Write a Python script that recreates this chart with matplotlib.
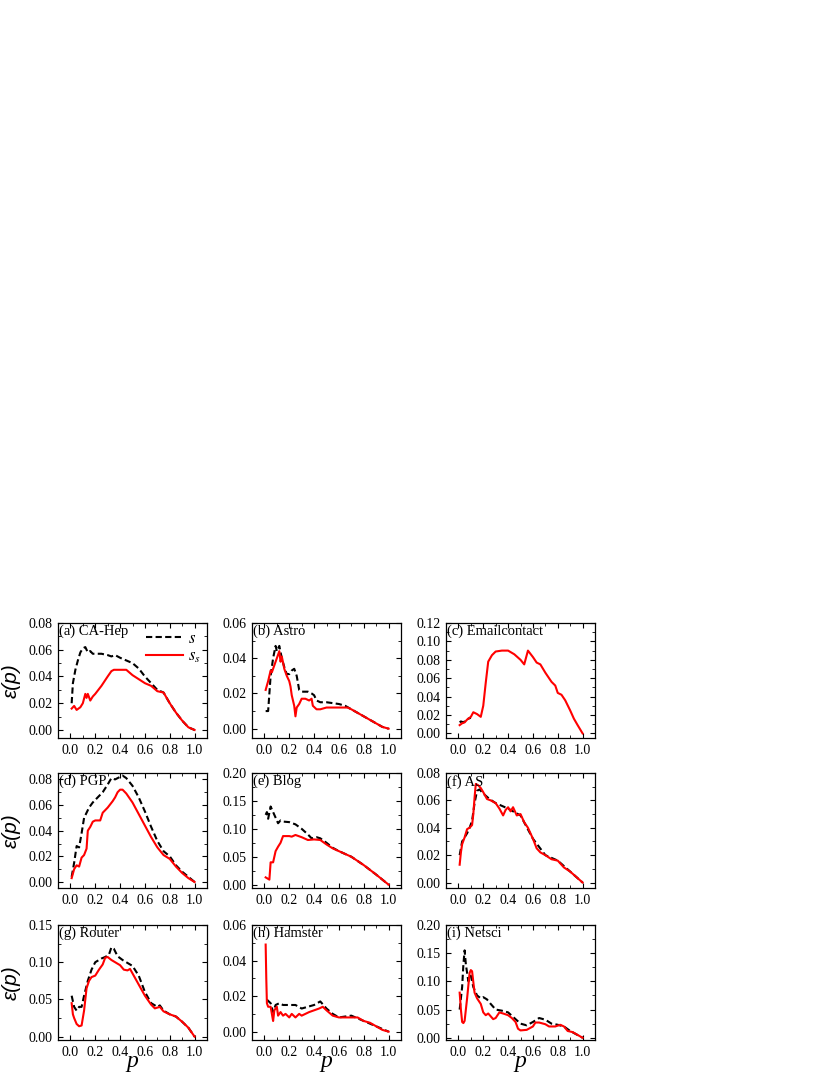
import numpy as np
import matplotlib
matplotlib.use("Agg")
import matplotlib.pyplot as plt
from matplotlib.ticker import MultipleLocator, AutoMinorLocator

plt.rcParams['font.family'] = ['Liberation Serif', 'DejaVu Serif']
plt.rcParams['mathtext.fontset'] = 'stix'

# ---- data: (p, s) dashed and (p, s_s) solid for each network ----
names = ['(a) CA-Hep', '(b) Astro', '(c) Emailcontact',
         '(d) PGP', '(e) Blog', '(f) AS',
         '(g) Router', '(h) Hamster', '(i) Netsci']

# (a) CA-Hep
a_p_s = [0.01, 0.02, 0.04, 0.06, 0.08, 0.1, 0.12, 0.14, 0.16, 0.18, 0.2, 0.25, 0.3, 0.33, 0.36, 0.4,
         0.45, 0.5, 0.55, 0.6, 0.65, 0.7, 0.75, 0.8, 0.85, 0.9, 0.95, 1.0]
a_s = [0.020, 0.035, 0.045, 0.052, 0.058, 0.061, 0.062, 0.058, 0.059, 0.057, 0.057, 0.057, 0.056, 0.055,
       0.056, 0.054, 0.052, 0.050, 0.046, 0.040, 0.035, 0.030, 0.028, 0.020, 0.013, 0.007, 0.002, 0.0]
a_p_ss = [0.01, 0.03, 0.05, 0.08, 0.1, 0.12, 0.13, 0.14, 0.16, 0.18, 0.2, 0.25, 0.3, 0.33, 0.35, 0.4,
          0.45, 0.5, 0.55, 0.6, 0.65, 0.7, 0.75, 0.8, 0.85, 0.9, 0.95, 1.0]
a_ss = [0.016, 0.018, 0.015, 0.017, 0.020, 0.027, 0.024, 0.027, 0.022, 0.025, 0.027, 0.033, 0.040, 0.044,
        0.045, 0.045, 0.045, 0.041, 0.038, 0.035, 0.033, 0.029, 0.028, 0.020, 0.013, 0.007, 0.002, 0.0]

# (b) Astro
b_p_s = [0.01, 0.03, 0.05, 0.07, 0.09, 0.1, 0.12, 0.14, 0.16, 0.18, 0.2, 0.22, 0.24, 0.26, 0.28, 0.3,
         0.35, 0.38, 0.4, 0.42, 0.45, 0.5, 0.6, 0.65, 0.7, 0.8, 0.9, 0.95, 1.0]
b_s = [0.010, 0.010, 0.030, 0.040, 0.047, 0.044, 0.047, 0.040, 0.035, 0.031, 0.031, 0.033, 0.034, 0.030,
       0.022, 0.021, 0.021, 0.020, 0.019, 0.016, 0.015, 0.015, 0.014, 0.013, 0.011, 0.007, 0.003, 0.001, 0.0]
b_p_ss = [0.01, 0.03, 0.05, 0.06, 0.08, 0.1, 0.12, 0.13, 0.14, 0.16, 0.18, 0.2, 0.21, 0.22, 0.24, 0.25,
          0.26, 0.28, 0.3, 0.33, 0.36, 0.38, 0.39, 0.42, 0.45, 0.5, 0.6, 0.67, 0.7, 0.8, 0.9, 0.95, 1.0]
b_ss = [0.022, 0.027, 0.033, 0.032, 0.036, 0.040, 0.044, 0.038, 0.041, 0.034, 0.030, 0.027, 0.024, 0.019,
        0.013, 0.007, 0.012, 0.014, 0.017, 0.017, 0.016, 0.017, 0.013, 0.011, 0.011, 0.012, 0.012, 0.012,
        0.011, 0.007, 0.003, 0.001, 0.0]

# (c) Emailcontact
c_p_ss = [0.01, 0.03, 0.05, 0.07, 0.1, 0.12, 0.15, 0.18, 0.2, 0.22, 0.24, 0.27, 0.3, 0.35, 0.4, 0.45,
          0.5, 0.53, 0.56, 0.6, 0.63, 0.66, 0.7, 0.75, 0.78, 0.8, 0.83, 0.86, 0.9, 0.93, 0.96, 1.0]
c_ss = [0.009, 0.011, 0.012, 0.015, 0.018, 0.023, 0.021, 0.018, 0.030, 0.055, 0.078, 0.085, 0.089, 0.090,
        0.090, 0.086, 0.080, 0.075, 0.090, 0.083, 0.077, 0.075, 0.066, 0.056, 0.052, 0.044, 0.042, 0.036,
        0.025, 0.016, 0.009, 0.0]
c_p_s = [0.01, 0.02, 0.04, 0.06, 0.08, 0.1]
c_s = [0.012, 0.013, 0.012, 0.014, 0.016, 0.017]

# (d) PGP
d_p_s = [0.01, 0.03, 0.05, 0.07, 0.09, 0.11, 0.13, 0.15, 0.18, 0.2, 0.23, 0.26, 0.3, 0.33, 0.36, 0.4,
         0.42, 0.45, 0.5, 0.55, 0.6, 0.65, 0.7, 0.75, 0.8, 0.85, 0.9, 0.95, 1.0]
d_s = [0.004, 0.015, 0.028, 0.027, 0.038, 0.050, 0.054, 0.058, 0.062, 0.064, 0.067, 0.070, 0.076, 0.081,
       0.080, 0.082, 0.083, 0.081, 0.075, 0.066, 0.055, 0.043, 0.032, 0.024, 0.020, 0.013, 0.008, 0.004, 0.0]
d_p_ss = [0.01, 0.03, 0.05, 0.07, 0.09, 0.11, 0.13, 0.14, 0.16, 0.18, 0.2, 0.24, 0.26, 0.3, 0.34, 0.36,
          0.38, 0.4, 0.42, 0.45, 0.5, 0.55, 0.6, 0.65, 0.7, 0.75, 0.8, 0.85, 0.9, 0.95, 1.0]
d_ss = [0.003, 0.010, 0.013, 0.012, 0.019, 0.021, 0.026, 0.040, 0.043, 0.047, 0.048, 0.048, 0.054, 0.058,
        0.063, 0.066, 0.070, 0.072, 0.072, 0.069, 0.062, 0.053, 0.044, 0.035, 0.027, 0.021, 0.018, 0.012,
        0.007, 0.003, 0.0]

# (e) Blog
e_p_s = [0.01, 0.02, 0.03, 0.05, 0.07, 0.09, 0.11, 0.13, 0.15, 0.2, 0.25, 0.3, 0.35, 0.38, 0.42, 0.45,
         0.5, 0.55, 0.6, 0.7, 0.8, 0.9, 1.0]
e_s = [0.125, 0.130, 0.118, 0.140, 0.130, 0.120, 0.110, 0.115, 0.113, 0.112, 0.108, 0.100, 0.090, 0.083,
       0.085, 0.083, 0.075, 0.066, 0.060, 0.050, 0.035, 0.018, 0.0]
e_p_ss = [0.01, 0.04, 0.05, 0.07, 0.09, 0.11, 0.13, 0.15, 0.2, 0.22, 0.25, 0.3, 0.35, 0.4, 0.45, 0.5,
          0.55, 0.6, 0.7, 0.8, 0.9, 1.0]
e_ss = [0.013, 0.009, 0.040, 0.040, 0.060, 0.068, 0.075, 0.087, 0.087, 0.086, 0.089, 0.085, 0.080, 0.081,
        0.080, 0.072, 0.065, 0.060, 0.050, 0.035, 0.018, 0.0]

# (f) AS
f_p_ss = [0.01, 0.02, 0.03, 0.05, 0.07, 0.09, 0.11, 0.12, 0.13, 0.14, 0.16, 0.18, 0.2, 0.23, 0.26, 0.3,
          0.33, 0.36, 0.38, 0.4, 0.42, 0.44, 0.47, 0.5, 0.53, 0.56, 0.6, 0.63, 0.66, 0.7, 0.75, 0.8, 0.85,
          0.9, 0.95, 1.0]
f_ss = [0.013, 0.022, 0.028, 0.033, 0.039, 0.040, 0.042, 0.050, 0.062, 0.072, 0.071, 0.069, 0.066, 0.061,
        0.060, 0.058, 0.054, 0.049, 0.053, 0.055, 0.052, 0.055, 0.049, 0.050, 0.044, 0.040, 0.032, 0.025,
        0.022, 0.020, 0.017, 0.016, 0.011, 0.008, 0.004, 0.0]
f_p_s = [0.01, 0.02, 0.03, 0.05, 0.07, 0.09, 0.11, 0.13, 0.15, 0.17, 0.2, 0.25, 0.3, 0.4, 0.5, 0.6,
         0.7, 0.8, 0.9, 1.0]
f_s = [0.020, 0.025, 0.030, 0.033, 0.036, 0.040, 0.045, 0.058, 0.067, 0.068, 0.065, 0.061, 0.058, 0.054,
       0.049, 0.032, 0.020, 0.016, 0.008, 0.0]

# (g) Router
g_p_s = [0.01, 0.03, 0.05, 0.07, 0.09, 0.11, 0.14, 0.17, 0.2, 0.25, 0.28, 0.31, 0.33, 0.35, 0.38, 0.42,
         0.45, 0.5, 0.55, 0.6, 0.65, 0.7, 0.72, 0.75, 0.8, 0.85, 0.9, 0.95, 1.0]
g_s = [0.055, 0.040, 0.035, 0.040, 0.040, 0.055, 0.075, 0.090, 0.100, 0.105, 0.107, 0.110, 0.120, 0.118,
       0.108, 0.103, 0.100, 0.095, 0.082, 0.060, 0.045, 0.040, 0.042, 0.035, 0.030, 0.027, 0.020, 0.012, 0.0]
g_p_ss = [0.01, 0.02, 0.03, 0.05, 0.07, 0.09, 0.11, 0.13, 0.15, 0.17, 0.2, 0.23, 0.26, 0.28, 0.3, 0.33,
          0.36, 0.4, 0.43, 0.46, 0.48, 0.5, 0.55, 0.6, 0.65, 0.68, 0.72, 0.75, 0.8, 0.85, 0.9, 0.95, 1.0]
g_ss = [0.045, 0.030, 0.025, 0.017, 0.014, 0.015, 0.035, 0.065, 0.075, 0.080, 0.082, 0.090, 0.097, 0.106,
        0.107, 0.103, 0.100, 0.096, 0.090, 0.089, 0.091, 0.085, 0.070, 0.055, 0.043, 0.038, 0.040, 0.034,
        0.030, 0.027, 0.020, 0.012, 0.0]

# (h) Hamster
h_p_s = [0.02, 0.05, 0.07, 0.09, 0.12, 0.15, 0.2, 0.25, 0.3, 0.35, 0.4, 0.45, 0.5, 0.55, 0.6, 0.7,
         0.8, 0.9, 1.0]
h_s = [0.018, 0.016, 0.011, 0.015, 0.016, 0.015, 0.015, 0.015, 0.013, 0.014, 0.015, 0.017, 0.013, 0.010,
       0.008, 0.009, 0.006, 0.003, 0.0]
h_p_ss = [0.01, 0.015, 0.02, 0.03, 0.05, 0.06, 0.07, 0.08, 0.1, 0.11, 0.13, 0.15, 0.17, 0.2, 0.22, 0.25,
          0.28, 0.3, 0.33, 0.36, 0.4, 0.44, 0.47, 0.5, 0.55, 0.6, 0.65, 0.7, 0.75, 0.8, 0.85, 0.9, 0.95, 1.0]
h_ss = [0.049, 0.030, 0.016, 0.014, 0.014, 0.010, 0.006, 0.012, 0.014, 0.009, 0.011, 0.009, 0.010, 0.008,
        0.010, 0.008, 0.010, 0.009, 0.010, 0.011, 0.012, 0.013, 0.014, 0.012, 0.009, 0.008, 0.008, 0.008,
        0.008, 0.006, 0.005, 0.003, 0.001, 0.0]

# (i) Netsci
i_p_s = [0.01, 0.02, 0.03, 0.04, 0.05, 0.06, 0.08, 0.1, 0.12, 0.15, 0.18, 0.2, 0.23, 0.26, 0.3, 0.35,
         0.4, 0.45, 0.5, 0.55, 0.6, 0.65, 0.7, 0.75, 0.8, 0.85, 0.9, 0.95, 1.0]
i_s = [0.050, 0.070, 0.090, 0.130, 0.155, 0.130, 0.100, 0.110, 0.090, 0.075, 0.070, 0.072, 0.068, 0.060,
       0.050, 0.048, 0.045, 0.035, 0.025, 0.022, 0.028, 0.035, 0.032, 0.025, 0.023, 0.020, 0.012, 0.006, 0.0]
i_p_ss = [0.01, 0.02, 0.03, 0.04, 0.05, 0.07, 0.09, 0.1, 0.11, 0.13, 0.15, 0.18, 0.2, 0.22, 0.24, 0.26,
          0.28, 0.3, 0.33, 0.36, 0.4, 0.43, 0.46, 0.48, 0.5, 0.55, 0.6, 0.62, 0.65, 0.7, 0.73, 0.78, 0.82,
          0.85, 0.88, 0.92, 0.96, 1.0]
i_ss = [0.080, 0.050, 0.028, 0.026, 0.030, 0.070, 0.115, 0.120, 0.118, 0.080, 0.070, 0.060, 0.045, 0.040,
        0.043, 0.038, 0.033, 0.035, 0.045, 0.043, 0.040, 0.035, 0.028, 0.016, 0.013, 0.014, 0.020, 0.027,
        0.027, 0.024, 0.020, 0.020, 0.023, 0.020, 0.012, 0.010, 0.005, 0.0]

series = [(a_p_s, a_s, a_p_ss, a_ss), (b_p_s, b_s, b_p_ss, b_ss), (c_p_s, c_s, c_p_ss, c_ss),
          (d_p_s, d_s, d_p_ss, d_ss), (e_p_s, e_s, e_p_ss, e_ss), (f_p_s, f_s, f_p_ss, f_ss),
          (g_p_s, g_s, g_p_ss, g_ss), (h_p_s, h_s, h_p_ss, h_ss), (i_p_s, i_s, i_p_ss, i_ss)]

ylims = [(-0.006, 0.08), (-0.0053, 0.06), (-0.005, 0.12),
         (-0.0047, 0.085), (-0.006, 0.2), (-0.004, 0.08),
         (-0.0045, 0.15), (-0.0047, 0.06), (-0.004, 0.2)]
ysteps = [0.02, 0.02, 0.02, 0.02, 0.05, 0.02, 0.05, 0.02, 0.05]

# ---- layout (pixel positions in an 830x1075 canvas) ----
W, H = 830, 1075
fig = plt.figure(figsize=(8.3, 10.75), dpi=100)
col_left = [58, 252, 446]
row_top = [623, 773, 925]
aw, ah = 149, 115

for k in range(9):
    r, c = divmod(k, 3)
    ax = fig.add_axes([col_left[c] / W, 1 - (row_top[r] + ah) / H, aw / W, ah / H])
    ps, s, pss, ss = series[k]
    l1, = ax.plot(ps, s, color='black', ls=(0, (3, 1.6)), lw=1.5)
    l2, = ax.plot(pss, ss, color='red', lw=1.5)
    ax.set_xlim(-0.1, 1.1)
    ax.set_ylim(*ylims[k])
    ax.xaxis.set_major_locator(MultipleLocator(0.2))
    ax.xaxis.set_minor_locator(AutoMinorLocator(2))
    ax.yaxis.set_major_locator(MultipleLocator(ysteps[k]))
    ax.yaxis.set_minor_locator(AutoMinorLocator(2))
    ax.xaxis.set_major_formatter(plt.FuncFormatter(lambda v, pos: f'{v:.1f}'))
    ax.yaxis.set_major_formatter(plt.FuncFormatter(lambda v, pos: f'{v:.2f}'))
    ax.tick_params(which='both', direction='in', top=True, right=True, labelsize=10, pad=4)
    ax.tick_params(which='major', length=3.5, width=0.8)
    ax.tick_params(which='minor', length=2, width=0.6)
    for sp in ax.spines.values():
        sp.set_linewidth(0.9)
    ax.text(0.01, 0.985, names[k], transform=ax.transAxes, ha='left', va='top', fontsize=10.5)
    if k == 0:
        ax.legend([l1, l2], ['$s$', '$s_s$'], loc='upper right', frameon=False,
                  fontsize=12, handlelength=2.2, handletextpad=0.3,
                  borderaxespad=0.0, labelspacing=0.1, bbox_to_anchor=(1.0, 0.99))
    if c == 0:
        ax.set_ylabel('ε(p)', fontsize=15, family='Liberation Sans', style='italic')
        ax.yaxis.set_label_coords(-37 / aw, 0.5)
    if r == 2:
        ax.set_xlabel('p', fontsize=17, style='italic')
        ax.xaxis.set_label_coords(0.5, -21 / ah)
        ax.xaxis.label.set_va('center')

fig.savefig('out.png', dpi=100)
